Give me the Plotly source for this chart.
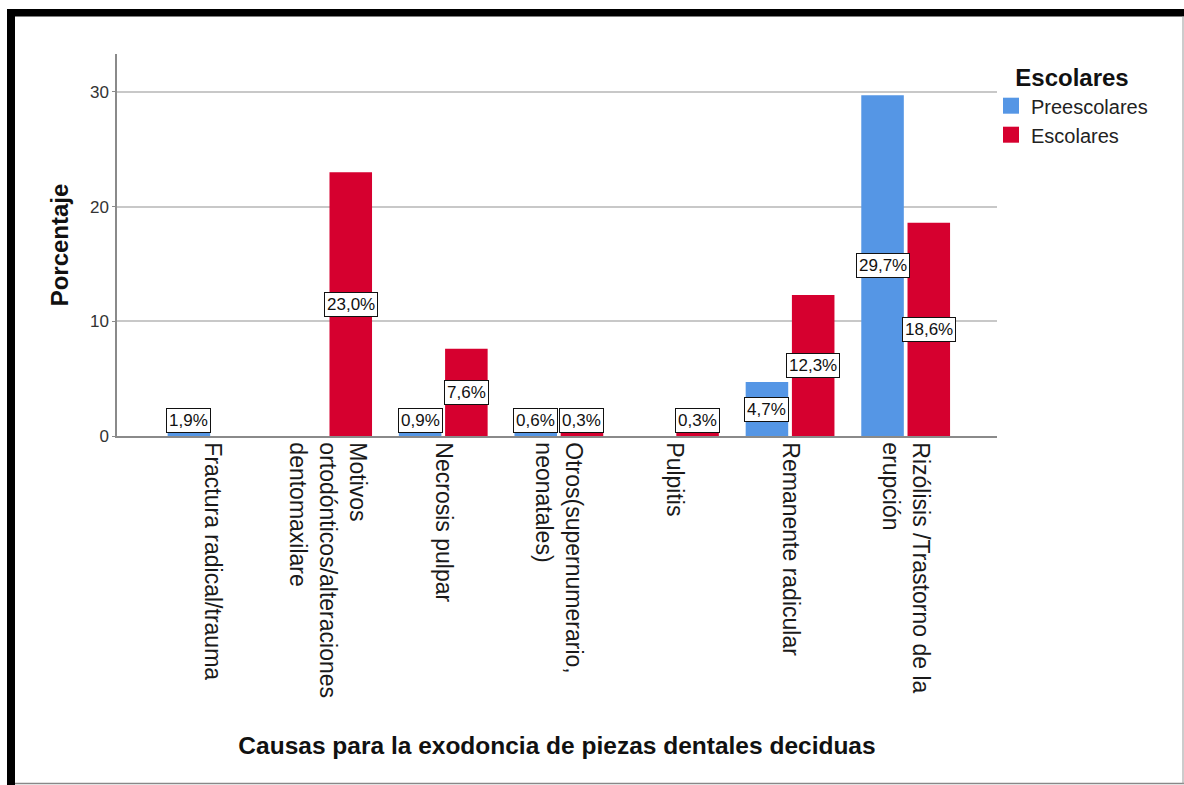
import plotly.graph_objects as go

# Causes of tooth extraction, percentage by school group
categories = [
    "Fractura radical/trauma",
    "Motivos<br>ortodónticos/alteraciones<br>dentomaxilare",
    "Necrosis pulpar",
    "Otros(supernumerario,<br>neonatales)",
    "Pulpitis",
    "Remanente radicular",
    "Rizólisis /Trastorno de la<br>erupción",
]
preescolares = [1.9, None, 0.9, 0.6, None, 4.7, 29.7]
escolares = [None, 23.0, 7.6, 0.3, 0.3, 12.3, 18.6]
y_ticks = [0, 10, 20, 30]

BLUE = "#5596e5"
RED = "#d6002f"
FONT = "Liberation Sans, Arial, sans-serif"

W, H = 1184, 785
ML, MR, MT, MB = 117, 187, 54, 349
PW, PH = W - ML - MR, H - MT - MB


def px_x(p):
    return (p - ML) / PW


def px_y(p):
    return (H - MB - p) / PH


fig = go.Figure()
idx = list(range(len(categories)))
fig.add_trace(go.Bar(x=idx, y=preescolares, name="Preescolares",
                     marker=dict(color=BLUE, line=dict(width=0)), showlegend=False))
fig.add_trace(go.Bar(x=idx, y=escolares, name="Escolares",
                     marker=dict(color=RED, line=dict(width=0)), showlegend=False))

# legend entries with larger square swatches
for name, col in [("Preescolares", BLUE), ("Escolares", RED)]:
    fig.add_trace(go.Scatter(x=[None], y=[None], mode="markers", name=name,
                             marker=dict(symbol="square", size=18, color=col)))

# boxed value labels centred on each bar, kept just above the axis
offset = 0.2
for series, dx in [(preescolares, -offset), (escolares, offset)]:
    for i, v in enumerate(series):
        if v is None:
            continue
        fig.add_annotation(
            x=i + dx, y=max(v / 2, 1.36), xref="x", yref="y",
            text=f"{v:.1f}%".replace(".", ","), showarrow=False,
            font=dict(family=FONT, size=17, color="#111111"),
            bgcolor="white", bordercolor="#111111", borderwidth=1, borderpad=2,
        )

# page frame
frame = [
    dict(x0=px_x(7), x1=px_x(1184), y0=px_y(9), y1=px_y(16.5), color="black"),
    dict(x0=px_x(7), x1=px_x(15), y0=px_y(9), y1=px_y(785), color="black"),
]
for f in frame:
    fig.add_shape(type="rect", xref="paper", yref="paper", x0=f["x0"], x1=f["x1"],
                  y0=f["y0"], y1=f["y1"], fillcolor=f["color"], line=dict(width=0))
fig.add_shape(type="line", xref="paper", yref="paper", x0=px_x(15), x1=px_x(1184),
              y0=px_y(783.5), y1=px_y(783.5), line=dict(color="#888888", width=1.5))
fig.add_shape(type="line", xref="paper", yref="paper", x0=px_x(1183), x1=px_x(1183),
              y0=px_y(16), y1=px_y(784), line=dict(color="#999999", width=1))

fig.update_layout(
    width=W, height=H,
    margin=dict(l=ML, r=MR, t=MT, b=MB, autoexpand=False),
    paper_bgcolor="white", plot_bgcolor="white",
    barmode="group", bargap=0.2, bargroupgap=0.08,
    font=dict(family=FONT, color="#222222"),
    legend=dict(
        x=px_x(991), y=px_y(55), xanchor="left", yanchor="top",
        title=dict(text="<b>Escolares</b>", side="top center",
                   font=dict(family=FONT, size=24, color="#111111")),
        font=dict(family=FONT, size=20, color="#222222"),
        itemsizing="trace", tracegroupgap=0, bgcolor="rgba(0,0,0,0)",
    ),
    xaxis=dict(
        tickmode="array", tickvals=idx, ticktext=categories,
        tickangle=90, range=[-0.822, 6.79],
        tickfont=dict(family=FONT, size=23, color="#1a1a1a"),
        showline=True, linecolor="#8a8a8a", linewidth=1.5,
        showgrid=False, ticks="", zeroline=False,
        title=dict(text="<b>Causas para la exodoncia de piezas dentales deciduas</b>",
                   font=dict(family=FONT, size=24.5, color="#111111"), standoff=40),
    ),
    yaxis=dict(
        range=[0, 33.3], tickvals=y_ticks,
        tickfont=dict(family=FONT, size=17, color="#333333"),
        showline=True, linecolor="#8a8a8a", linewidth=1.5,
        showgrid=True, gridcolor="#c8c8c8", gridwidth=1.5,
        zeroline=False, ticks="outside", ticklen=3, tickcolor="#8a8a8a",
        title=dict(text="<b>Porcentaje</b>",
                   font=dict(family=FONT, size=24, color="#111111"), standoff=15),
    ),
)

fig.write_html("out.html")
